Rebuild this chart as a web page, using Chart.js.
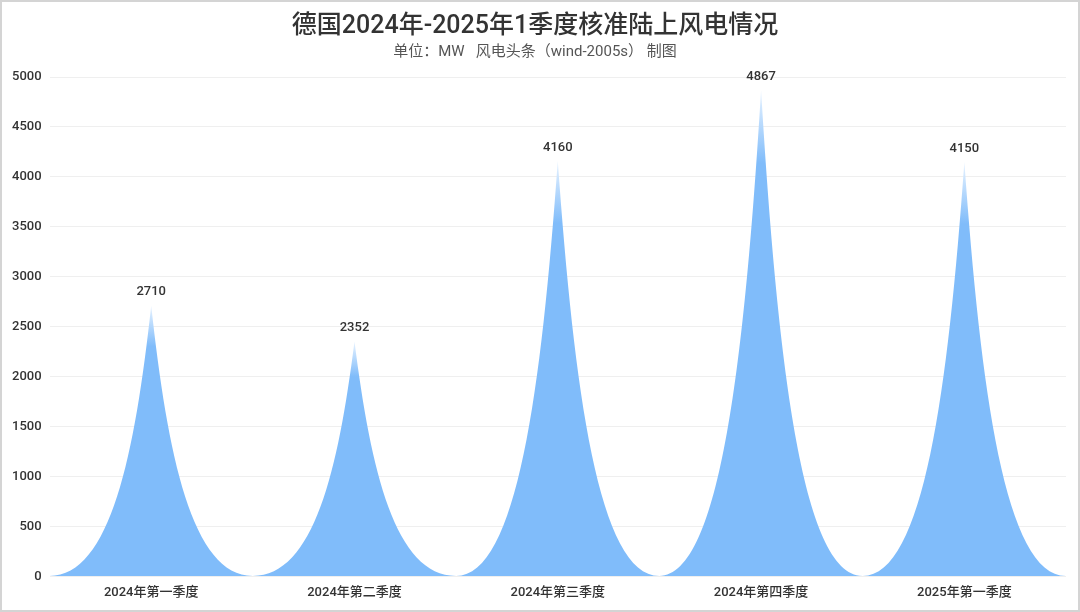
<!DOCTYPE html>
<html>
<head>
<meta charset="utf-8">
<script src="https://cdn.jsdelivr.net/npm/chart.js@4.4.1/dist/chart.umd.min.js"></script>
<style>
  html, body { margin: 0; padding: 0; background: #fff; }
  #wrap { width: 1080px; height: 612px; box-sizing: border-box; border: 2px solid #d4d4d4; }
  #chart { display: block; }
</style>
</head>
<body>
<div id="wrap"><canvas id="chart" width="1076" height="608"></canvas></div>
<script>
const categories = ['2024年第一季度', '2024年第二季度', '2024年第三季度', '2024年第四季度', '2025年第一季度'];
const approvedMW = [2710, 2352, 4160, 4867, 4150];
const yTicks = [0, 500, 1000, 1500, 2000, 2500, 3000, 3500, 4000, 4500, 5000];

const FONT = 'Roboto, "Noto Sans CJK SC", sans-serif';
const SPIKE_BLUE = 'rgb(128, 188, 250)';

// draws each bar as a concave spike, plus the value label above the tip
const spikePlugin = {
  id: 'spikes',
  afterDatasetsDraw(chart) {
    const { ctx } = chart;
    const meta = chart.getDatasetMeta(0);
    meta.data.forEach((bar, i) => {
      const { x, y, base, width } = bar.getProps(['x', 'y', 'base', 'width'], true);
      const h = base - y;
      const left = x - width / 2, right = x + width / 2;

      const grad = ctx.createLinearGradient(0, base, 0, y);
      grad.addColorStop(0, SPIKE_BLUE);
      grad.addColorStop(0.85, SPIKE_BLUE);
      grad.addColorStop(1, 'rgba(232, 243, 255, 1)');

      ctx.save();
      ctx.beginPath();
      ctx.moveTo(left, base);
      ctx.lineTo(right, base);
      ctx.bezierCurveTo(x + 0.2 * width, base, x + 0.08 * width, base - 0.45 * h, x, y);
      ctx.bezierCurveTo(x - 0.08 * width, base - 0.45 * h, x - 0.2 * width, base, left, base);
      ctx.closePath();
      ctx.fillStyle = grad;
      ctx.fill();

      ctx.fillStyle = '#333';
      ctx.font = '500 13px ' + FONT;
      ctx.textAlign = 'center';
      ctx.textBaseline = 'bottom';
      ctx.fillText(String(approvedMW[i]), x, y - 7);
      ctx.restore();
    });
  }
};

new Chart(document.getElementById('chart'), {
  type: 'bar',
  data: {
    labels: categories,
    datasets: [{
      label: '核准陆上风电',
      data: approvedMW,
      backgroundColor: 'rgba(0,0,0,0)',
      categoryPercentage: 1,
      barPercentage: 1,
    }]
  },
  options: {
    responsive: false,
    animation: false,
    layout: { padding: { left: 2, right: 12, top: 0, bottom: 0 } },
    plugins: {
      legend: { display: false },
      tooltip: { enabled: false },
      title: {
        display: true,
        text: '德国2024年-2025年1季度核准陆上风电情况',
        color: '#333',
        font: { family: FONT, size: 25, weight: '500' },
        padding: { top: 10, bottom: 0 }
      },
      subtitle: {
        display: true,
        text: '单位：MW   风电头条（wind-2005s） 制图',
        color: '#555',
        font: { family: FONT, size: 15, weight: '400' },
        padding: { top: 1, bottom: 16 }
      }
    },
    scales: {
      x: {
        grid: { display: false, drawTicks: false },
        border: { display: false },
        ticks: { color: '#333', padding: 9, font: { family: FONT, size: 13, weight: '500' } }
      },
      y: {
        min: 0,
        max: 5000,
        afterBuildTicks: (axis) => { axis.ticks = yTicks.map((v) => ({ value: v })); },
        grid: { color: '#efefef', drawTicks: false },
        border: { display: false },
        ticks: {
          color: '#333',
          padding: 8,
          font: { family: FONT, size: 13, weight: '500' },
          callback: (v) => String(v)
        }
      }
    }
  },
  plugins: [spikePlugin]
});
</script>
</body>
</html>
